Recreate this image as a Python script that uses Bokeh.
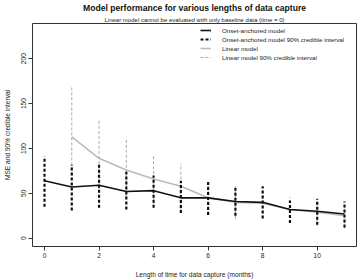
from bokeh.plotting import figure
from bokeh.models import (Range1d, FixedTicker, Title, Legend, LegendItem,
                          ColumnDataSource)
from bokeh.embed import file_html
from bokeh.resources import INLINE

# ---- data ----
months = [0, 1, 2, 3, 4, 5, 6, 7, 8, 9, 10, 11]
onset_mse = [64, 57, 59, 52, 53, 45, 45, 41, 40, 32, 30, 27]
onset_lo = [35, 31, 34, 32, 34, 28, 26, 25, 22, 17, 15, 12]
onset_hi = [91, 82, 84, 74, 70, 64, 63, 56, 58, 42, 44, 41]

lin_months = [1, 2, 3, 4, 5, 6, 7, 8, 9, 10, 11]
linear_mse = [113, 89, 76, 66, 58, 45, 40, 39, 32, 29, 25]
linear_lo = [70, 55, 45, 38, 32, 27, 22, 22, 17, 14, 11]
linear_hi = [170, 131, 112, 93, 83, 60, 58, 55, 46, 42, 38]

x_ticks = [0, 2, 4, 6, 8, 10]
y_ticks = [0, 50, 100, 150, 200]

title_text = "Model performance for various lengths of data capture"
subtitle_text = "Linear model cannot be evaluated with only baseline data (time = 0)"
x_label = "Length of time for data capture (months)"
y_label = "MSE and 90% credible interval"
legend_labels = ["Onset-anchored model",
                 "Onset-anchored model 90% credible interval",
                 "Linear model",
                 "Linear model 90% credible interval"]

FONT = "Liberation Sans"

p = figure(width=357, height=280, output_backend="svg", toolbar_location=None,
           x_range=Range1d(-0.44, 11.44), y_range=Range1d(-9.2, 239.2),
           min_border_left=30, min_border_right=1, min_border_top=21,
           min_border_bottom=31)
p.grid.visible = False
p.outline_line_color = "#333333"
p.outline_line_width = 1
p.background_fill_color = "white"
p.border_fill_color = "white"

# titles
sub = Title(text=subtitle_text, align="center", text_font=FONT,
            text_font_size="6px", text_font_style="normal",
            text_color="#222222", standoff=2)
p.add_layout(sub, "above")
main = Title(text=title_text, align="center", text_font=FONT,
             text_font_size="8.6px", text_font_style="bold",
             text_color="#111111", standoff=1)
p.add_layout(main, "above")

# axes
for ax in (p.xaxis[0], p.yaxis[0]):
    ax.axis_line_color = None
    ax.major_tick_line_color = "#333333"
    ax.major_tick_in = 0
    ax.major_tick_out = 4
    ax.minor_tick_line_color = None
    ax.major_label_text_font = FONT
    ax.major_label_text_font_size = "6.6px"
    ax.major_label_text_color = "#222222"
    ax.axis_label_text_font = FONT
    ax.axis_label_text_font_size = "6.6px"
    ax.axis_label_text_font_style = "normal"
    ax.axis_label_text_color = "#222222"

p.xaxis.ticker = FixedTicker(ticks=x_ticks)
p.yaxis.ticker = FixedTicker(ticks=y_ticks)
p.xaxis.axis_label = x_label
p.yaxis.axis_label = y_label
p.yaxis.major_label_orientation = "vertical"
p.xaxis.major_label_standoff = 2
p.xaxis.axis_label_standoff = 10
p.yaxis.major_label_standoff = 2
p.yaxis.axis_label_standoff = 8

# glyphs
onset_src = ColumnDataSource(dict(x=months, y=onset_mse, lo=onset_lo, hi=onset_hi))
lin_src = ColumnDataSource(dict(x=lin_months, y=linear_mse, lo=linear_lo, hi=linear_hi))

r_lin = p.line("x", "y", source=lin_src, line_color="#bbbbbb", line_width=1.6)
r_lin_ci = p.segment(x0="x", y0="lo", x1="x", y1="hi", source=lin_src,
                     line_color="#aaaaaa", line_width=1, line_dash="3 2")
r_on = p.line("x", "y", source=onset_src, line_color="#111111", line_width=1.6)
r_on_ci = p.segment(x0="x", y0="lo", x1="x", y1="hi", source=onset_src,
                    line_color="#111111", line_width=2.2, line_dash="3 2")

legend = Legend(items=[LegendItem(label=legend_labels[0], renderers=[r_on]),
                       LegendItem(label=legend_labels[1], renderers=[r_on_ci]),
                       LegendItem(label=legend_labels[2], renderers=[r_lin]),
                       LegendItem(label=legend_labels[3], renderers=[r_lin_ci])],
                location=(168, 185))
legend.glyph_width = 11
legend.glyph_height = 8
legend.label_height = 8
legend.label_standoff = 11
legend.spacing = 1
legend.padding = 0
legend.margin = 0
legend.border_line_color = None
legend.background_fill_alpha = 0
legend.label_text_font = FONT
legend.label_text_font_size = "6.2px"
legend.label_text_color = "#222222"
p.add_layout(legend, "center")

open("out.html", "w").write(file_html(p, INLINE))
